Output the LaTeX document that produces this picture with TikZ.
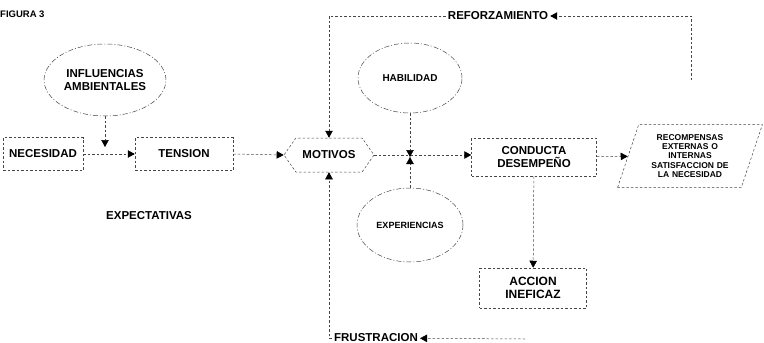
\documentclass[tikz,border=0pt]{standalone}
\usepackage{fontspec}
\setmainfont{Liberation Sans}
\usetikzlibrary{arrows.meta,shapes.geometric,shapes.symbols,positioning}
\definecolor{trazo}{RGB}{70,70,70}

\begin{document}
\begin{tikzpicture}[x=1pt, y=-1pt,
        etiqueta/.style={font=\fontsize{11.5}{13}\selectfont\bfseries, inner sep=2pt},
        punteado/.style={draw=trazo, line width=0.5pt, dash pattern=on 2.5pt off 2pt},
        caja/.style={punteado, etiqueta, align=center},
        nube/.style={draw=trazo, ellipse, line width=0.5pt, dash pattern=on 5pt off 2pt on 1pt off 2pt, align=center, inner sep=0pt},
        flecha/.style={punteado, -{Triangle[length=7pt, width=7.5pt, color=black]}}
    ]
        \useasboundingbox (0,0) rectangle (764,343);

        % 1. Title
        \node[font=\fontsize{9.5}{11}\selectfont\bfseries, anchor=west, inner sep=0pt] (figura) at (0,14) {FIGURA 3};

        % 2. Left branch
        \node[nube, minimum width=105, minimum height=72, etiqueta] (influencias) at (105,80) {INFLUENCIAS\\AMBIENTALES};
        \node[caja, minimum width=80, minimum height=33] (necesidad) at (43,154) {NECESIDAD};
        \node[caja, minimum width=98, minimum height=33] (tension) at (184,154) {TENSION};
        \node[etiqueta] (expectativas) at (149,216) {EXPECTATIVAS};
        \coordinate (cruce1) at (105,147);

        % 3. Motives and the two ellipses
        \node[shape=signal, signal to=east and west, signal pointer angle=110, punteado, etiqueta,
              minimum width=90, minimum height=34, inner xsep=0pt] (motivos) at (329,155) {MOTIVOS};
        \node[nube, minimum width=104, minimum height=70, font=\fontsize{10}{12}\selectfont\bfseries] (habilidad) at (410,78) {HABILIDAD};
        \node[nube, minimum width=106, minimum height=74, font=\fontsize{9}{11}\selectfont\bfseries] (experiencias) at (410,225) {EXPERIENCIAS};
        \coordinate (cruce2) at (410,157);

        % 4. Behaviour, rewards, failure
        \node[caja, minimum width=125, minimum height=38] (conducta) at (534,157) {CONDUCTA\\DESEMPEÑO};
        \node[trapezium, trapezium left angle=68, trapezium right angle=112, trapezium stretches=true, punteado,
              minimum width=145, minimum height=63, text width=84, align=center, inner sep=0pt,
              font=\fontsize{8.5}{9.2}\selectfont\bfseries] (recompensas) at (690,156)
              {RECOMPENSAS\\EXTERNAS O\\INTERNAS\\SATISFACCION DE\\LA NECESIDAD};
        \node[caja, minimum width=107, minimum height=40, font=\fontsize{12}{13}\selectfont\bfseries] (accion) at (533,288) {ACCION\\INEFICAZ};

        % 5. Feedback labels
        \node[etiqueta] (reforzamiento) at (498,16) {REFORZAMIENTO};
        \node[etiqueta] (frustracion) at (376,338) {FRUSTRACION};
        \coordinate (ref0) at (691,80);
        \coordinate (fru0) at (525,339);

        % Arrows
        \draw[flecha] (influencias) -- (cruce1);
        \draw[flecha] (necesidad) -- (tension);
        \draw[flecha] (tension.east) -- (motivos.west);
        \draw[flecha] (motivos.east) -- (motivos.east -| conducta.west);
        \draw[flecha] (habilidad) -- (cruce2);
        \draw[flecha] (experiencias) -- (cruce2);
        \draw[flecha] (conducta) -- (recompensas);
        \draw[flecha] (conducta) -- (accion);
        \draw[flecha] (ref0) |- (reforzamiento);
        \draw[flecha] (reforzamiento) -| (motivos.north);
        \draw[flecha] (fru0) -- (frustracion);
        \draw[flecha] (frustracion.west) -| (motivos.south);

    \end{tikzpicture}
\end{document}
